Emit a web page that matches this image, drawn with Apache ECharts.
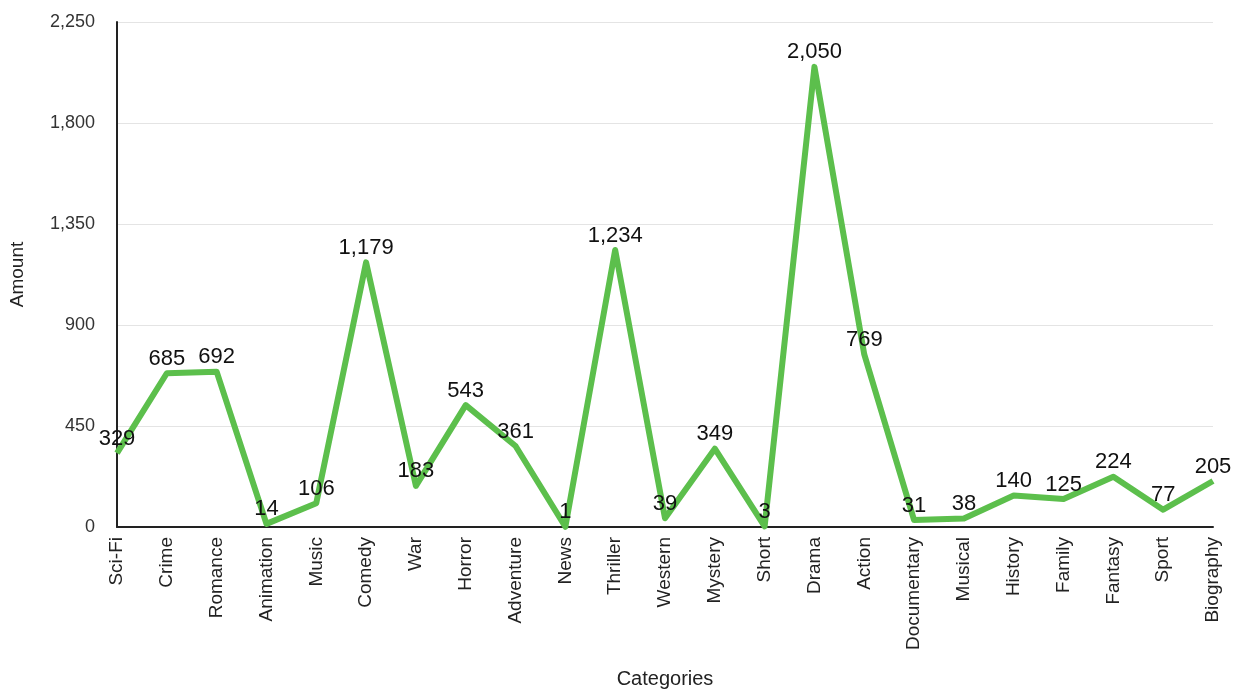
<!DOCTYPE html>
<html>
<head>
<meta charset="utf-8">
<script src="https://cdn.jsdelivr.net/npm/echarts@6/dist/echarts.min.js"></script>
<style>
  html, body { margin: 0; padding: 0; background: #ffffff; }
  #chart { width: 1237px; height: 691px; }
</style>
</head>
<body>
<div id="chart"></div>
<script>
// Genres and the number of titles in each
const categories = ['Sci-Fi', 'Crime', 'Romance', 'Animation', 'Music', 'Comedy', 'War', 'Horror',
  'Adventure', 'News', 'Thriller', 'Western', 'Mystery', 'Short', 'Drama', 'Action', 'Documentary',
  'Musical', 'History', 'Family', 'Fantasy', 'Sport', 'Biography'];
const amounts = [329, 685, 692, 14, 106, 1179, 183, 543, 361, 1, 1234, 39, 349, 3, 2050, 769, 31,
  38, 140, 125, 224, 77, 205];

const fontFamily = '"Liberation Sans", Arial, Helvetica, sans-serif';

const chart = echarts.init(document.getElementById('chart'));
chart.setOption({
  animation: false,
  grid: { left: 117, right: 24, top: 22, bottom: 164, containLabel: false, outerBoundsMode: 'none' },
  xAxis: {
    type: 'category',
    data: categories,
    boundaryGap: false,
    name: 'Categories',
    nameLocation: 'middle',
    nameGap: 142,
    nameTextStyle: { fontFamily, fontSize: 20, color: '#222' },
    axisLine: { lineStyle: { color: '#222', width: 2 } },
    axisTick: { show: false },
    axisLabel: { rotate: 90, interval: 0, margin: 10, fontFamily, fontSize: 19, color: '#222' }
  },
  yAxis: {
    type: 'value',
    min: 0,
    max: 2250,
    interval: 450,
    name: 'Amount',
    nameLocation: 'middle',
    nameGap: 90,
    nameRotate: 90,
    nameTextStyle: { fontFamily, fontSize: 19, color: '#222' },
    axisLine: { show: true, lineStyle: { color: '#222', width: 2 } },
    axisTick: { show: false },
    axisLabel: {
      margin: 22, fontFamily, fontSize: 18, color: '#333',
      formatter: v => v.toLocaleString('en-US')
    },
    splitLine: { lineStyle: { color: '#e4e4e4', width: 1 } }
  },
  series: [{
    type: 'line',
    data: amounts,
    symbol: 'circle',
    symbolSize: 1,
    showSymbol: true,
    showAllSymbol: true,
    itemStyle: { color: 'rgba(0,0,0,0)', borderWidth: 0 },
    lineStyle: { color: '#5cbf4c', width: 6, join: 'round' },
    labelLayout: { hideOverlap: false },
    label: {
      show: true,
      position: 'top',
      distance: 3,
      fontFamily,
      fontSize: 22,
      color: '#111',
      opacity: 1,
      formatter: p => p.value.toLocaleString('en-US')
    }
  }]
});
</script>
</body>
</html>
